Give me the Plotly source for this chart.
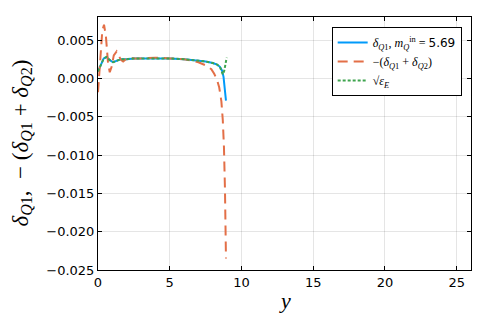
import plotly.graph_objects as go

# data
y_blue = [0, 0.2, 0.4, 0.6, 0.8, 1.05, 1.3, 1.6, 2.0, 2.5, 3, 4, 5, 6, 6.5, 7, 7.5, 8.0, 8.3, 8.5, 8.65, 8.75, 8.85, 8.92]
v_blue = [0.0009, 0.0017, 0.0026, 0.0028, 0.0024, 0.0021, 0.0023, 0.0025, 0.0025, 0.0026, 0.0026, 0.0026, 0.0026, 0.0025,
          0.0024, 0.0023, 0.0022, 0.0020, 0.0018, 0.0015, 0.0010, 0.0002, -0.0012, -0.0029]

y_orange = [0, 0.1, 0.2, 0.3, 0.42, 0.55, 0.7, 0.82, 0.95, 1.1, 1.3, 1.45, 1.6, 1.75, 1.95, 2.2, 2.5, 3, 4, 5, 6, 6.5,
            7, 7.5, 7.9, 8.1, 8.3, 8.45, 8.6, 8.7, 8.78, 8.85, 8.92]
v_orange = [-0.0018, 0.001, 0.004, 0.0062, 0.0070, 0.0055, 0.0020, 0.0008, 0.0015, 0.0030, 0.0035, 0.0030, 0.0024, 0.0022,
            0.0025, 0.0027, 0.0026, 0.0026, 0.0027, 0.0026, 0.0025, 0.0023, 0.0021, 0.0017, 0.0012, 0.0006, -0.0002,
            -0.0012, -0.003, -0.0055, -0.009, -0.0144, -0.0235]

y_green = [0, 0.2, 0.4, 0.6, 0.8, 1.05, 1.3, 1.6, 2.0, 2.5, 3, 4, 5, 6, 6.5, 7, 7.5, 8.0, 8.3, 8.5, 8.6, 8.7, 8.8, 8.9, 8.97]
v_green = [0.0009, 0.0017, 0.0026, 0.0028, 0.0024, 0.0021, 0.0023, 0.0025, 0.0025, 0.0026, 0.0026, 0.0026, 0.0026, 0.0025,
           0.0024, 0.0023, 0.0022, 0.0020, 0.0018, 0.0015, 0.0009, 0.0005, 0.0010, 0.0019, 0.0027]

x_ticks = [0, 5, 10, 15, 20, 25]
y_ticks = [-0.025, -0.020, -0.015, -0.010, -0.005, 0.0, 0.005]
y_ticktext = ["−0.025", "−0.020", "−0.015", "−0.010", "−0.005", "0.000", "0.005"]

names = [
    "<i>δ</i><sub><i>Q</i>1</sub>, <i>m</i><sub><i>Q</i></sub><sup>in</sup> = <span style='font-family:DejaVu Sans'>5.69</span>",
    "−(<i>δ</i><sub><i>Q</i>1</sub> + <i>δ</i><sub><i>Q</i>2</sub>)",
    "√<i>ε</i><sub><i>E</i></sub>",
]
x_title = "<i>y</i>"
y_title = "<i>δ</i><sub><i>Q</i>1</sub>,  − (<i>δ</i><sub><i>Q</i>1</sub> + <i>δ</i><sub><i>Q</i>2</sub>)"

fig = go.Figure()
fig.add_trace(go.Scatter(x=y_blue, y=v_blue, mode="lines", name=names[0],
                         line=dict(color="#009AFA", width=2)))
fig.add_trace(go.Scatter(x=y_orange, y=v_orange, mode="lines", name=names[1],
                         line=dict(color="#E36F47", width=2, dash="10px,6px")))
fig.add_trace(go.Scatter(x=y_green, y=v_green, mode="lines", name=names[2],
                         line=dict(color="#3EA44E", width=2, dash="3px,2px")))

axis_common = dict(showline=True, linecolor="black", linewidth=1, mirror="ticks",
                   ticks="inside", ticklen=4, tickcolor="black", automargin=False,
                   showgrid=True, gridcolor="rgba(0,0,0,0.1)", gridwidth=1,
                   zeroline=False, tickfont=dict(family="DejaVu Sans", size=13, color="black"))

fig.update_xaxes(range=[0, 26], tickvals=x_ticks, **axis_common)
fig.update_yaxes(range=[-0.025, 0.008], tickvals=y_ticks, ticktext=y_ticktext, **axis_common)

fig.add_annotation(text=x_title, xref="paper", yref="paper", x=0.5, y=0, yshift=-30,
                   xanchor="center", yanchor="middle", showarrow=False,
                   font=dict(family="Liberation Serif", size=22, color="black"))
fig.add_annotation(text=y_title, xref="paper", yref="paper", x=0, y=0.5, xshift=-77,
                   xanchor="center", yanchor="middle", showarrow=False, textangle=-90,
                   font=dict(family="Liberation Serif", size=23, color="black"))

# page body has an 8px default margin; figure is sized to fill the rest of the window
fig.update_layout(
    width=483, height=319,
    margin=dict(l=90, r=20, t=9, b=57),
    plot_bgcolor="white", paper_bgcolor="white",
    showlegend=True,
    legend=dict(x=0.975, y=0.96, xanchor="right", yanchor="top",
                bgcolor="white", bordercolor="black", borderwidth=1,
                font=dict(family="Liberation Serif", size=12, color="black"),
                tracegroupgap=0, itemwidth=30),
)

fig.write_html("out.html")
